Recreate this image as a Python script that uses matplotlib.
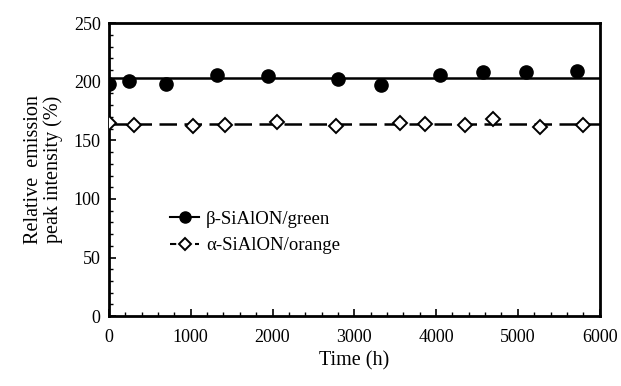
import numpy as np
import matplotlib
matplotlib.use('Agg')
import matplotlib.pyplot as plt
from matplotlib.ticker import MultipleLocator

plt.rcParams['font.family'] = ['Liberation Serif', 'DejaVu Serif']

# beta-SiAlON / green
t_beta = [0, 250, 700, 1320, 1950, 2800, 3330, 4050, 4580, 5100, 5720]
i_beta = [198, 201, 198, 206, 205, 202, 197, 206, 208, 208, 209]

# alpha-SiAlON / orange
t_alpha = [0, 300, 1030, 1420, 2050, 2780, 3560, 3860, 4360, 4700, 5270, 5800]
i_alpha = [165, 163, 162, 163, 166, 162, 165, 164, 163, 168, 161, 163]

fig = plt.figure(figsize=(6.21, 3.86), dpi=100)
ax = fig.add_axes([0.1755, 0.181, 0.79, 0.759])

# flat lines at the mean level
ax.axhline(np.mean(i_beta), color='k', lw=1.8, zorder=1)
ax.axhline(np.mean(i_alpha), color='k', lw=1.8, ls=(0, (7, 3)), zorder=1)

ax.plot(t_beta, i_beta, 'o', color='k', ms=9.5, zorder=3)
ax.plot(t_alpha, i_alpha, 'D', mfc='white', mec='k', mew=1.4, ms=7, zorder=3)

# legend handles
ax.plot([], [], '-o', color='k', ms=8, lw=1.5, label='β-SiAlON/green')
ax.plot([], [], '--D', color='k', mfc='white', mew=1.4, ms=6.5, lw=1.5,
        label='α-SiAlON/orange', dashes=(3, 3))
ax.legend(loc='upper left', bbox_to_anchor=(0.11, 0.385), frameon=False,
          fontsize=13.5, handlelength=1.5, handletextpad=0.4, labelspacing=0.5,
          borderaxespad=0)

ax.set_xlim(0, 6000)
ax.set_ylim(0, 250)
ax.xaxis.set_major_locator(MultipleLocator(1000))
ax.xaxis.set_minor_locator(MultipleLocator(200))
ax.yaxis.set_major_locator(MultipleLocator(50))
ax.yaxis.set_minor_locator(MultipleLocator(10))
ax.tick_params(which='both', direction='in', top=False, right=False, labelsize=13)
ax.tick_params(which='major', length=5, width=1.2)
ax.tick_params(which='minor', length=3, width=1.0)
ax.tick_params(axis='x', pad=9)
ax.tick_params(axis='y', pad=6)
for s in ax.spines.values():
    s.set_linewidth(2)

ax.set_xlabel('Time (h)', fontsize=14.5, labelpad=4)
ax.set_ylabel('Relative  emission\npeak intensity (%)', fontsize=14.5,
              labelpad=8, linespacing=1.0)

plt.savefig('out.png', dpi=100)
